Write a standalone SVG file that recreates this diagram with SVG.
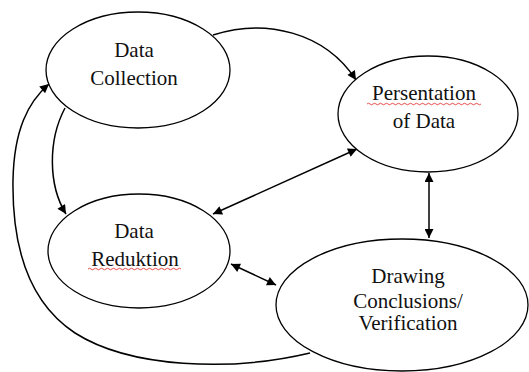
<svg xmlns="http://www.w3.org/2000/svg" width="529" height="372" viewBox="0 0 529 372">
<style>
.node ellipse{fill:#fff;stroke:#000;stroke-width:1.3}
.node text{font-family:"Liberation Serif",serif;font-size:21px;fill:#111;text-anchor:middle}
.edges path{fill:none;stroke:#000;stroke-width:1.5}
.wavy{fill:none;stroke:#e02020;stroke-width:0.8}
</style>
<defs>
<marker id="ah" viewBox="0 0 10 10" refX="10" refY="5" markerWidth="10" markerHeight="9" markerUnits="userSpaceOnUse" orient="auto-start-reverse">
<path d="M0,0 L10,5 L0,10 z" fill="#000"/>
</marker>
</defs>
<rect width="529" height="372" fill="#fff"/>
<g class="edges">
<path d="M213,35 C265,18 325,32 356,80" marker-end="url(#ah)"/>
<path d="M357,149 L213,214" marker-start="url(#ah)" marker-end="url(#ah)"/>
<path d="M429,173 L429,238" marker-start="url(#ah)" marker-end="url(#ah)"/>
<path d="M231,264 L276,285" marker-start="url(#ah)" marker-end="url(#ah)"/>
<path d="M65,108 C48,140 48,185 66,214" marker-end="url(#ah)"/>
<path d="M310,353 C230,372 130,368 75,333 C25,300 12,240 13,180 C14,130 28,102 49,84" marker-end="url(#ah)"/>
</g>
<g id="data-collection" class="node">
<ellipse cx="138" cy="70" rx="92" ry="58"/>
<text x="134" y="57">Data</text>
<text x="134" y="85">Collection</text>
</g>
<g id="persentation" class="node">
<ellipse cx="428" cy="114" rx="90" ry="58"/>
<text x="424" y="100">Persentation</text>
<text x="424" y="128">of Data</text>
<path class="wavy" d="M367,104 q1.5,-1.5 3,0 t3,0 t3,0 t3,0 t3,0 t3,0 t3,0 t3,0 t3,0 t3,0 t3,0 t3,0 t3,0 t3,0 t3,0 t3,0 t3,0 t3,0 t3,0 t3,0 t3,0 t3,0 t3,0 t3,0 t3,0 t3,0 t3,0 t3,0 t3,0 t3,0 t3,0 t3,0 t3,0 t3,0 t3,0 t3,0 t3,0 t3,0"/>
</g>
<g id="data-reduktion" class="node">
<ellipse cx="139" cy="251" rx="91" ry="57"/>
<text x="134" y="238">Data</text>
<text x="135" y="266">Reduktion</text>
<path class="wavy" d="M88,269 q1.5,-1.5 3,0 t3,0 t3,0 t3,0 t3,0 t3,0 t3,0 t3,0 t3,0 t3,0 t3,0 t3,0 t3,0 t3,0 t3,0 t3,0 t3,0 t3,0 t3,0 t3,0 t3,0 t3,0 t3,0 t3,0 t3,0 t3,0 t3,0 t3,0 t3,0 t3,0 t3,0"/>
</g>
<g id="drawing-conclusions" class="node">
<ellipse cx="402" cy="305" rx="126" ry="66"/>
<text x="408" y="283">Drawing</text>
<text x="408" y="308">Conclusions/</text>
<text x="408" y="330">Verification</text>
</g>
</svg>
